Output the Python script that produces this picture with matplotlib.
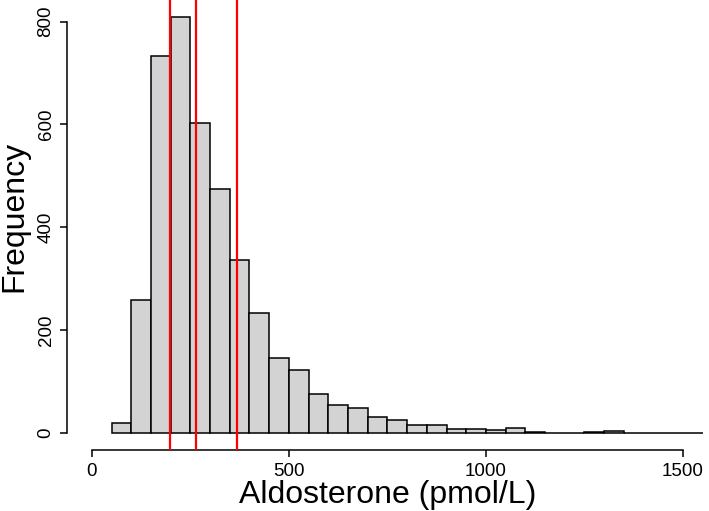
import numpy as np
import matplotlib.pyplot as plt

plt.rcParams["font.family"] = ["Liberation Sans", "DejaVu Sans"]

# histogram bins (pmol/L), width 50, starting at 50
bin_left = np.arange(50, 1550, 50)
counts = [19, 259, 733, 809, 603, 475, 337, 233, 146, 123, 76, 54, 49,
          32, 25, 16, 16, 8, 8, 5, 9, 2, 1, 1, 2, 3, 0, 1, 0, 1]
ref_lines = [199, 265, 368]

xticks = [0, 500, 1000, 1500]
yticks = [0, 200, 400, 600, 800]

fig = plt.figure(figsize=(7.09, 5.11), dpi=100)
ax = fig.add_axes([67 / 709, 61 / 511, 642 / 709, 450 / 511])

ax.bar(bin_left, counts, width=50, align="edge", color="#d3d3d3",
       edgecolor="black", linewidth=1.1, zorder=2)
for v in ref_lines:
    ax.axvline(v, color="red", linewidth=1.6, zorder=3)

ax.set_xlim(-63, 1566)
ax.set_ylim(-33, 842)

for s in ["top", "right"]:
    ax.spines[s].set_visible(False)
ax.spines["left"].set_bounds(0, 800)
ax.spines["bottom"].set_bounds(0, 1500)
ax.spines["left"].set_linewidth(1.1)
ax.spines["bottom"].set_linewidth(1.1)

ax.set_xticks(xticks)
ax.set_yticks(yticks)
ax.set_yticklabels([str(t) for t in yticks], rotation=90, va="center")
ax.tick_params(axis="both", direction="out", length=5, width=1.1,
               labelsize=13.5, pad=4)

ax.set_xlabel("Aldosterone (pmol/L)", fontsize=23, labelpad=0)
ax.set_ylabel("Frequency", fontsize=23)
ax.yaxis.set_label_coords(-38 / 642, 0.518)

fig.savefig("out.png", dpi=100)
